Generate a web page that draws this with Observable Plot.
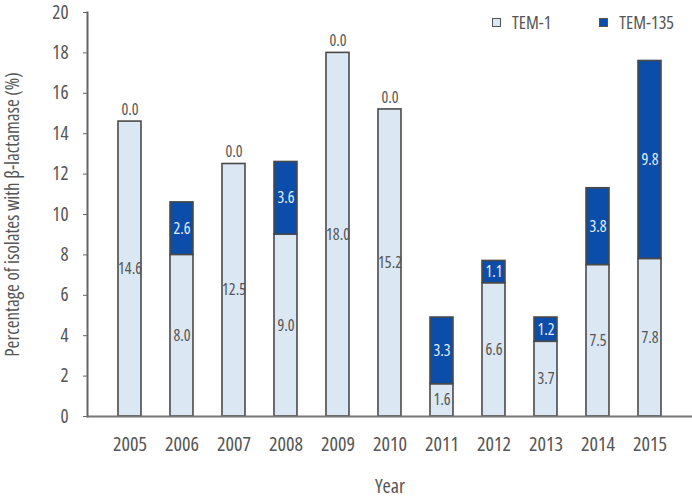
<!DOCTYPE html>
<html>
<head>
<meta charset="utf-8">
<script src="https://cdn.jsdelivr.net/npm/d3@7"></script>
<script src="https://cdn.jsdelivr.net/npm/@observablehq/plot@0.6"></script>
<style>
  body { margin: 0; background: #fff; }
  #chart { position: relative; width: 692px; height: 498px; font-family: "Open Sans", sans-serif; font-stretch: 75%; }
  #chart svg text { font-family: "Open Sans", sans-serif; font-stretch: 75%; font-weight: 400; }
  .legend { position: absolute; top: 10px; left: 492px; display: flex; gap: 48px; font-size: 18px; color: #555; }
  .legend span { display: inline-flex; align-items: center; gap: 11px; }
  .legend i { display: inline-block; width: 7px; height: 7px; border: 1.5px solid #555; }
</style>
</head>
<body>
<div id="chart"></div>
<script>
// β-lactamase genotypes among isolates, by year
const years = ["2005","2006","2007","2008","2009","2010","2011","2012","2013","2014","2015"];
const tem1 = [14.6, 8.0, 12.5, 9.0, 18.0, 15.2, 1.6, 6.6, 3.7, 7.5, 7.8];
const tem135 = [0.0, 2.6, 0.0, 3.6, 0.0, 0.0, 3.3, 1.1, 1.2, 3.8, 9.8];
const series = ["TEM-1", "TEM-135"];
const colors = ["#dbe7f3", "#0b4da8"];
const yTicks = [0, 2, 4, 6, 8, 10, 12, 14, 16, 18, 20];

const rows = [];
years.forEach((year, i) => {
  rows.push({year, type: series[0], value: tem1[i]});
  rows.push({year, type: series[1], value: tem135[i]});
});
const nonzero = rows.filter(d => d.value > 0);
const zeroTops = years
  .map((year, i) => ({year, total: tem1[i] + tem135[i], value: tem135[i]}))
  .filter(d => d.value === 0);

const chart = Plot.plot({
  width: 692,
  height: 498,
  marginLeft: 87,
  marginRight: 0,
  marginTop: 12,
  marginBottom: 82,
  style: {fontFamily: "Open Sans, sans-serif", fontSize: "19px", color: "#555", background: "#fff"},
  x: {domain: years, padding: 0.56},
  y: {domain: [0, 20]},
  color: {domain: series, range: colors},
  marks: [
    Plot.barY(nonzero, Plot.stackY({x: "year", y: "value", z: "type", fill: "type", stroke: "#4a4a4a", strokeWidth: 1.6, order: series})),
    Plot.text(nonzero, Plot.stackY({
      x: "year", y: "value", z: "type", order: series,
      text: d => d.value.toFixed(1),
      fill: d => d.type === "TEM-1" ? "#555" : "#e4edf8",
      fontSize: 16
    })),
    Plot.text(zeroTops, {x: "year", y: "total", text: d => d.value.toFixed(1), dy: -12, fill: "#555", fontSize: 16}),
    Plot.axisY({ticks: yTicks, tickSize: 4, tickPadding: 15, stroke: "#666", fill: "#555", fontSize: 19, label: null}),
    Plot.axisY({ticks: [], fill: "#555", fontSize: 19, label: "Percentage of isolates with β-lactamase (%)", labelAnchor: "center", labelArrow: "none", labelOffset: 82}),
    Plot.axisX({tickSize: 0, tickPadding: 20, fill: "#555", fontSize: 20, label: "Year", labelAnchor: "center", labelArrow: "none", labelOffset: 76}),
    Plot.frame({anchor: "left", stroke: "#666", strokeWidth: 2}),
    Plot.ruleY([0], {stroke: "#777", strokeWidth: 2})
  ]
});

const root = document.getElementById("chart");
root.appendChild(chart);
const legend = document.createElement("div");
legend.className = "legend";
series.forEach((s, i) => {
  const item = document.createElement("span");
  const sw = document.createElement("i");
  sw.style.background = colors[i];
  item.appendChild(sw);
  item.appendChild(document.createTextNode(s));
  legend.appendChild(item);
});
root.appendChild(legend);
</script>
</body>
</html>
